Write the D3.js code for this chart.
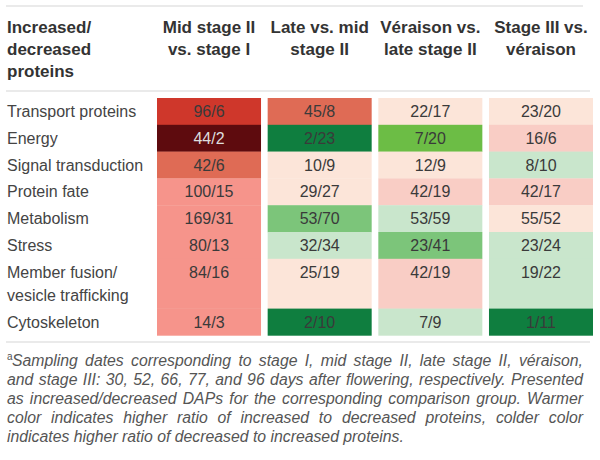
<!DOCTYPE html>
<html>
<head>
<meta charset="utf-8">
<script src="https://cdn.jsdelivr.net/npm/d3@7"></script>
<style>
  html, body { margin: 0; padding: 0; background: #fff; }
  svg { display: block; }
</style>
</head>
<body>
<svg id="chart" width="600" height="460"></svg>
<script>
// ---------- data ----------
const headerLabel = ["Increased/", "decreased", "proteins"];
const comparisons = ["Mid stage II\nvs. stage I", "Late vs. mid\nstage II", "Véraison vs.\nlate stage II", "Stage III vs.\nvéraison"];
const categories = ["Transport proteins", "Energy", "Signal transduction", "Protein fate", "Metabolism", "Stress", "Member fusion/\nvesicle trafficking", "Cytoskeleton"];
const increased = [
  [96, 45, 22, 23],
  [44, 2, 7, 16],
  [42, 10, 12, 8],
  [100, 29, 42, 42],
  [169, 53, 53, 55],
  [80, 32, 23, 23],
  [84, 25, 42, 19],
  [14, 2, 7, 1]
];
const decreased = [
  [6, 8, 17, 20],
  [2, 23, 20, 6],
  [6, 9, 9, 10],
  [15, 27, 19, 17],
  [31, 70, 59, 52],
  [13, 34, 41, 24],
  [16, 19, 19, 22],
  [3, 10, 9, 11]
];
// warm (+) / cold (-) shade level
const shadeLevel = [
  [4, 3, 0, 0],
  [5, -4, -3, 1],
  [3, 0, 0, -1],
  [2, 0, 1, 1],
  [2, -2, -1, 0],
  [2, -1, -2, -1],
  [2, 0, 1, -1],
  [2, -4, -1, -4]
];
const footnoteLines = [
  "Sampling dates corresponding to stage I, mid stage II, late stage II, véraison,",
  "and stage III: 30, 52, 66, 77, and 96 days after flowering, respectively. Presented",
  "as increased/decreased DAPs for the corresponding comparison group. Warmer",
  "color indicates higher ratio of increased to decreased proteins, colder color",
  "indicates higher ratio of decreased to increased proteins."
];

// ---------- drawing ----------
const svg = d3.select("#chart");
const FONT = "'Liberation Sans', Arial, Helvetica, sans-serif";

const color = d3.scaleOrdinal()
  .domain([-4, -3, -2, -1, 0, 1, 2, 3, 4, 5])
  .range(["#0f7e3f", "#6cbd45", "#7cc57a", "#c9e6cc", "#fce5d9", "#f9cdc5", "#f6948b", "#df6b55", "#cf372b", "#5e0b0e"]);

const x = d3.scaleBand().domain(d3.range(comparisons.length)).range([157, 593]).paddingInner(0.06);

// row layout: rows with two label lines are taller
const lineCounts = categories.map(c => c.split("\n").length);
const baseH = 26.8, extraLine = 23;
const rowTop = [];
let acc = 98;
lineCounts.forEach((n, i) => { rowTop.push(acc); acc += baseH + (n - 1) * extraLine; });
const rowH = lineCounts.map(n => baseH + (n - 1) * extraLine);
const tableBottom = acc;

// rules
const ruleColor = "#e3e3e3";
svg.append("line").attr("x1", 6).attr("x2", 583).attr("y1", 6).attr("y2", 6)
  .attr("stroke", ruleColor).attr("stroke-width", 1.5);
svg.append("line").attr("x1", 6).attr("x2", 590).attr("y1", 91).attr("y2", 91)
  .attr("stroke", ruleColor).attr("stroke-width", 1.5);
svg.append("line").attr("x1", 6).attr("x2", 590).attr("y1", tableBottom + 6.5).attr("y2", tableBottom + 6.5)
  .attr("stroke", ruleColor).attr("stroke-width", 1.5);

// header
const header = svg.append("g").attr("font-family", FONT).attr("font-weight", "bold")
  .attr("font-size", 17).attr("fill", "#333");
headerLabel.forEach((t, i) => {
  header.append("text").attr("x", 7).attr("y", 33 + i * 22).text(t);
});
comparisons.forEach((c, j) => {
  c.split("\n").forEach((t, i) => {
    header.append("text").attr("x", x(j) + x.bandwidth() / 2).attr("y", 33 + i * 22)
      .attr("text-anchor", "middle").text(t);
  });
});

// row labels
const labels = svg.append("g").attr("font-family", FONT).attr("font-size", 16).attr("fill", "#444");
categories.forEach((c, i) => {
  c.split("\n").forEach((t, k) => {
    labels.append("text").attr("x", 7).attr("y", rowTop[i] + 19 + k * extraLine).text(t);
  });
});

// cells
const cells = [];
categories.forEach((c, i) => comparisons.forEach((cmp, j) => {
  cells.push({ i, j, inc: increased[i][j], dec: decreased[i][j], level: shadeLevel[i][j] });
}));

const cg = svg.append("g").selectAll("g").data(cells).join("g");
cg.append("rect")
  .attr("x", d => x(d.j))
  .attr("y", d => rowTop[d.i])
  .attr("width", x.bandwidth())
  .attr("height", d => rowH[d.i] + 0.3)
  .attr("fill", d => color(d.level));
cg.append("text")
  .attr("x", d => x(d.j) + x.bandwidth() / 2)
  .attr("y", d => rowTop[d.i] + 19)
  .attr("text-anchor", "middle")
  .attr("font-family", FONT)
  .attr("font-size", 16)
  .attr("fill", d => d.level === 5 ? "#dddddd" : "#3a3a3a")
  .text(d => `${d.inc}/${d.dec}`);

// footnote (justified)
const fn = svg.append("g").attr("font-family", FONT).attr("font-size", 15.8)
  .attr("font-style", "italic").attr("fill", "#555");
const left = 7, right = 583;
fn.append("text").attr("x", left).attr("y", 360).attr("font-size", 10).attr("font-style", "normal").text("a");
footnoteLines.forEach((line, k) => {
  const x0 = k === 0 ? 12 : left;
  const t = fn.append("text").attr("x", x0).attr("y", 366 + k * 19).text(line);
  if (k < footnoteLines.length - 1) {
    const natural = t.node().getComputedTextLength();
    const spaces = (line.match(/ /g) || []).length;
    const extra = (right - x0 - natural) / spaces;
    t.attr("word-spacing", extra);
  }
});
</script>
</body>
</html>
